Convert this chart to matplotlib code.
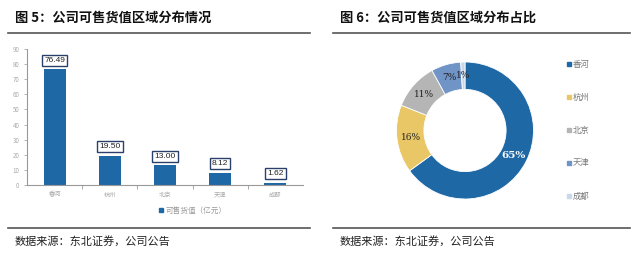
import numpy as np
import matplotlib.pyplot as plt
from matplotlib.lines import Line2D
from matplotlib.patches import Patch

plt.rcParams['font.family'] = ['Noto Sans CJK SC', 'DejaVu Sans']

cities = ['香河', '杭州', '北京', '天津', '成都']
values = [76.49, 19.50, 13.00, 8.12, 1.62]
shares = [65, 16, 11, 7, 1]
yticks = list(range(0, 91, 10))

bar_color = '#1f68a6'
pie_colors = ['#1f68a6', '#e9c766', '#b5b5b5', '#7094c6', '#c9d7ea']

fig = plt.figure(figsize=(6.4, 2.61), dpi=100)

# titles, rules, source notes
fig.text(15 / 640, 1 - 18 / 261, '图 5：公司可售货值区域分布情况', fontsize=9.5,
         fontweight='bold', va='center', color='#111111')
fig.text(340 / 640, 1 - 18 / 261, '图 6：公司可售货值区域分布占比', fontsize=9.5,
         fontweight='bold', va='center', color='#111111')
for x0, x1 in [(8, 310), (333, 630)]:
    for y in [33, 228]:
        fig.add_artist(Line2D([x0 / 640, x1 / 640], [1 - y / 261, 1 - y / 261],
                              color='#555555', lw=1.2))
fig.text(15 / 640, 1 - 241 / 261, '数据来源：东北证券，公司公告', fontsize=8,
         va='center', color='#222222')
fig.text(340 / 640, 1 - 241 / 261, '数据来源：东北证券，公司公告', fontsize=8,
         va='center', color='#222222')

# bar chart
ax = fig.add_axes([27 / 640, 1 - 185 / 261, 276 / 640, 136 / 261])
xs = list(range(len(cities)))
ax.bar(xs, values, width=0.4, color=bar_color, zorder=2)
for x, v in zip(xs, values):
    ax.annotate(f'{v:.2f}', (x, v), xytext=(0, 4), textcoords='offset points',
                ha='center', va='bottom', fontsize=6, color='#222222',
                family='Liberation Sans',
                bbox=dict(boxstyle='square,pad=0.25', fc='white', ec='#2b3f6b', lw=1))
ax.set_xlim(-0.5, len(cities) - 0.5)
ax.set_ylim(0, 90)
ax.set_yticks(yticks)
ax.set_xticks(xs)
ax.set_xticklabels(cities)
ax.set_xticks([i + 0.5 for i in xs[:-1]], minor=True)
ax.tick_params(axis='both', labelsize=4.5, colors='#aaaaaa', length=2, width=0.6)
ax.tick_params(axis='x', which='major', length=0, pad=4)
ax.tick_params(axis='x', which='minor', length=3, width=0.6, color='#999999')
for s in ['top', 'right']:
    ax.spines[s].set_visible(False)
for s in ['left', 'bottom']:
    ax.spines[s].set_color('#999999')
    ax.spines[s].set_linewidth(0.8)
ax.legend(handles=[Patch(color=bar_color, label='可售货值（亿元）')],
          loc='center', bbox_to_anchor=(0.6, -0.19), frameon=False,
          fontsize=5.5, handlelength=0.5, handleheight=0.5, handletextpad=0.3,
          labelcolor='#999999')

# donut chart
ax2 = fig.add_axes([396 / 640, 1 - 199 / 261, 138 / 640, 137 / 261])
wedges, _ = ax2.pie(shares, colors=pie_colors, startangle=90, counterclock=False,
                    radius=1, wedgeprops=dict(width=0.4, edgecolor='white', linewidth=0.6))
for i, (w, s) in enumerate(zip(wedges, shares)):
    ang = np.deg2rad((w.theta1 + w.theta2) / 2)
    r = 0.8
    ax2.text(r * np.cos(ang), r * np.sin(ang), f'{s}%', ha='center', va='center',
             fontsize=6.5 if i else 7.5, family='DejaVu Serif',
             color='white' if i == 0 else '#222222',
             fontweight='bold' if i == 0 else 'normal')
ax2.set_xlim(-1, 1)
ax2.set_ylim(-1, 1)
ax2.set_aspect('equal')
ax2.axis('off')

for i, (c, col) in enumerate(zip(cities, pie_colors)):
    y = 1 - (64 + 33 * i) / 261
    fig.add_artist(plt.Rectangle((567 / 640, y - 2 / 261), 4 / 640, 4 / 261,
                                 color=col, transform=fig.transFigure))
    fig.text(573 / 640, y, c, fontsize=6, va='center', color='#777777')

fig.savefig('out.png', dpi=100)
